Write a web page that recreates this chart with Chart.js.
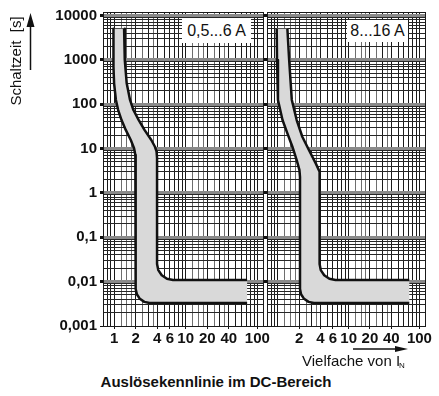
<!DOCTYPE html>
<html>
<head>
<meta charset="utf-8">
<script src="https://cdn.jsdelivr.net/npm/chart.js@4.4.1/dist/chart.umd.min.js"></script>
<style>
  body { margin: 0; background: #fff; }
  #wrap { position: relative; width: 439px; height: 396px; overflow: hidden; font-family: "Liberation Sans", Arial, sans-serif; color: #111; }
  canvas { position: absolute; top: 0; }
  .t { position: absolute; white-space: nowrap; line-height: 1; }
  .box { position: absolute; background: #fff; text-align: center; font-size: 16px; }
</style>
</head>
<body>
<div id="wrap">
  <canvas id="left" width="281" height="345" style="left:0"></canvas>
  <canvas id="right" width="175" height="345" style="left:264px"></canvas>

  <div class="box" style="left:182px;top:18px;width:69px;height:25px;line-height:25px">0,5...6 A</div>
  <div class="box" style="left:347px;top:20px;width:61px;height:22px;line-height:22px">8...16 A</div>

  <div class="t" style="left:15px;top:61px;font-size:15px;transform:translate(-50%,-50%) rotate(-90deg)">Schaltzeit&nbsp; [s]</div>
  <div class="t" style="left:302px;top:353px;font-size:15px">Vielfache von I</div>
  <div class="t" style="left:399px;top:362px;font-size:8px">N</div>
  <div class="t" style="left:216px;top:374px;font-size:15px;font-weight:bold;transform:translateX(-50%)">Auslösekennlinie im DC-Bereich</div>

  <svg width="439" height="396" style="position:absolute;left:0;top:0">
    <line x1="30.5" y1="70" x2="30.5" y2="25" stroke="#111" stroke-width="1.5"/>
    <polygon points="30.5,13 26.5,27 34.5,27" fill="#111"/>
    <line x1="353" y1="349" x2="396" y2="349" stroke="#111" stroke-width="1.5"/>
    <polygon points="408,349 395,346 395,352" fill="#111"/>
  </svg>
</div>

<script>
// log-paper steps inside one decade
const xSteps = [1, 1.25, 1.5, 1.75, 2, 2.5, 3, 3.5, 4, 5, 6, 7, 8, 9];
const ySteps = [1, 2, 3, 4, 5, 6, 7, 8, 9];
const xMin = 0.72, xMax = 120;
const yMin = 0.001, yMax = 12000;

const yTickValues = [0.001, 0.01, 0.1, 1, 10, 100, 1000, 10000];
const yTickLabels = ['0,001', '0,01', '0,1', '1', '10', '100', '1000', '10000'];
const xTicksLeft = [1, 2, 4, 6, 10, 20, 40, 100];
const xTicksRight = [2, 4, 6, 10, 20, 40, 100];

// 0,5...6 A
const lowerLeftX = [0.98, 0.98, 1.0, 1.06, 1.14, 1.27, 1.46, 1.71, 1.90, 1.98, 2.0, 2.0, 2.08, 2.29, 2.64, 3.14, 72];
const lowerLeftY = [5000, 700, 296, 125, 74, 44, 26, 15.6, 10.2, 7.2, 5.5, 0.0068, 0.0052, 0.0041, 0.0035, 0.0033, 0.0033];
const upperLeftX = [1.38, 1.41, 1.50, 1.67, 1.86, 2.21, 2.67, 3.31, 3.72, 3.92, 3.98, 3.98, 4.14, 4.63, 5.47, 6.65, 72];
const upperLeftY = [5000, 993, 296, 125, 74, 44, 26, 15.6, 11.0, 8.5, 6.1, 0.025, 0.0182, 0.0139, 0.0116, 0.0109, 0.0109];

// 8...16 A
const lowerRightX = [0.96, 0.97, 1.0, 1.16, 1.36, 1.60, 1.84, 2.01, 2.05, 2.05, 2.12, 2.34, 2.71, 3.22, 72];
const lowerRightY = [5000, 993, 125, 44, 22, 11, 5.5, 3.3, 2.3, 0.0068, 0.0052, 0.0041, 0.0035, 0.0033, 0.0033];
const upperRightX = [1.36, 1.44, 1.57, 1.84, 2.21, 2.74, 3.41, 3.88, 3.88, 4.03, 4.51, 5.34, 6.51, 72];
const upperRightY = [5000, 993, 125, 44, 18.5, 9.3, 4.7, 3.0, 0.025, 0.0182, 0.0139, 0.0116, 0.0109, 0.0109];

function pts(xs, ys) { return xs.map((x, i) => ({x: x, y: ys[i]})); }
function same(a, b) { return Math.abs(a - b) <= Math.abs(b) * 1e-6; }
function isDecade(v) { const l = Math.log10(v); return Math.abs(l - Math.round(l)) < 1e-6; }
function isWhole(v) {
  const m = v / Math.pow(10, Math.floor(Math.log10(v) + 1e-9));
  return Math.abs(m - Math.round(m)) < 1e-6;
}
function logGrid(min, max, steps) {
  const out = [min];
  for (let e = Math.floor(Math.log10(min)); e <= Math.ceil(Math.log10(max)); e++) {
    steps.forEach(s => {
      const v = +(s * Math.pow(10, e)).toPrecision(6);
      if (v > min * 1.0001 && v < max * 0.9999) out.push(v);
    });
  }
  out.push(max);
  return out;
}

const tickFont = {family: 'Liberation Sans', size: 15, weight: 'bold'};

function makeChart(id, lowX, lowY, upX, upY, xLabels, first) {
  const low = pts(lowX, lowY);
  const up = pts(upX, upY);
  return new Chart(document.getElementById(id), {
    type: 'scatter',
    data: {
      datasets: [
        { data: low, showLine: true, borderColor: '#111', borderWidth: 2.5, pointRadius: 0, fill: false, tension: 0, borderJoinStyle: 'round', order: 1 },
        { data: up, showLine: true, borderColor: '#111', borderWidth: 2.5, pointRadius: 0, fill: false, tension: 0, borderJoinStyle: 'round', order: 1 },
        { data: low.concat(up.slice().reverse()), showLine: true, borderWidth: 0, borderColor: 'rgba(0,0,0,0)',
          backgroundColor: '#d9d9d9', pointRadius: 0, fill: 'shape', tension: 0, order: 2 }
      ]
    },
    options: {
      responsive: false,
      animation: false,
      events: [],
      layout: { padding: {top: 12, right: first ? 18 : 14, bottom: 0, left: 0} },
      plugins: { legend: {display: false}, tooltip: {enabled: false} },
      scales: {
        x: {
          type: 'logarithmic', min: xMin, max: xMax,
          afterBuildTicks: s => { s.ticks = logGrid(xMin, xMax, xSteps).map(v => ({value: v})); },
          afterFit: s => { s.height = 19; },
          border: {display: true, color: '#1a1a1a', width: 1},
          grid: {
            color: c => {
              const v = c.tick.value;
              if (same(v, xMin) || same(v, xMax)) return '#1a1a1a';
              return isWhole(v) ? '#1a1a1a' : '#6e6e6e';
            },
            lineWidth: 1,
            tickLength: 3,
            tickColor: c => xLabels.some(t => same(c.tick.value, t)) ? '#111' : 'rgba(0,0,0,0)'
          },
          ticks: {
            autoSkip: false, maxRotation: 0, minRotation: 0, padding: 1, color: '#111', font: tickFont,
            callback: v => xLabels.some(t => same(v, t)) ? String(v) : ''
          }
        },
        y: {
          type: 'logarithmic', min: yMin, max: yMax,
          afterBuildTicks: s => { s.ticks = logGrid(yMin, yMax, ySteps).map(v => ({value: v})); },
          afterFit: s => { s.width = first ? 103 : 3; },
          border: {display: true, color: '#1a1a1a', width: 1},
          grid: {
            color: c => {
              const v = c.tick.value;
              if (same(v, yMin) || same(v, yMax)) return '#1a1a1a';
              return isDecade(v) ? '#8a8a8a' : '#262626';
            },
            lineWidth: c => {
              const v = c.tick.value;
              if (same(v, yMin) || same(v, yMax)) return 1;
              return isDecade(v) ? 3 : 1;
            },
            tickLength: 3,
            tickColor: c => yTickValues.some(t => same(c.tick.value, t)) ? '#111' : 'rgba(0,0,0,0)'
          },
          ticks: {
            display: first, autoSkip: false, padding: 3, color: '#111', font: tickFont,
            callback: v => {
              const i = yTickValues.findIndex(t => same(v, t));
              return i >= 0 ? yTickLabels[i] : '';
            }
          }
        }
      }
    }
  });
}

makeChart('left', lowerLeftX, lowerLeftY, upperLeftX, upperLeftY, xTicksLeft, true);
makeChart('right', lowerRightX, lowerRightY, upperRightX, upperRightY, xTicksRight, false);
</script>
</body>
</html>
